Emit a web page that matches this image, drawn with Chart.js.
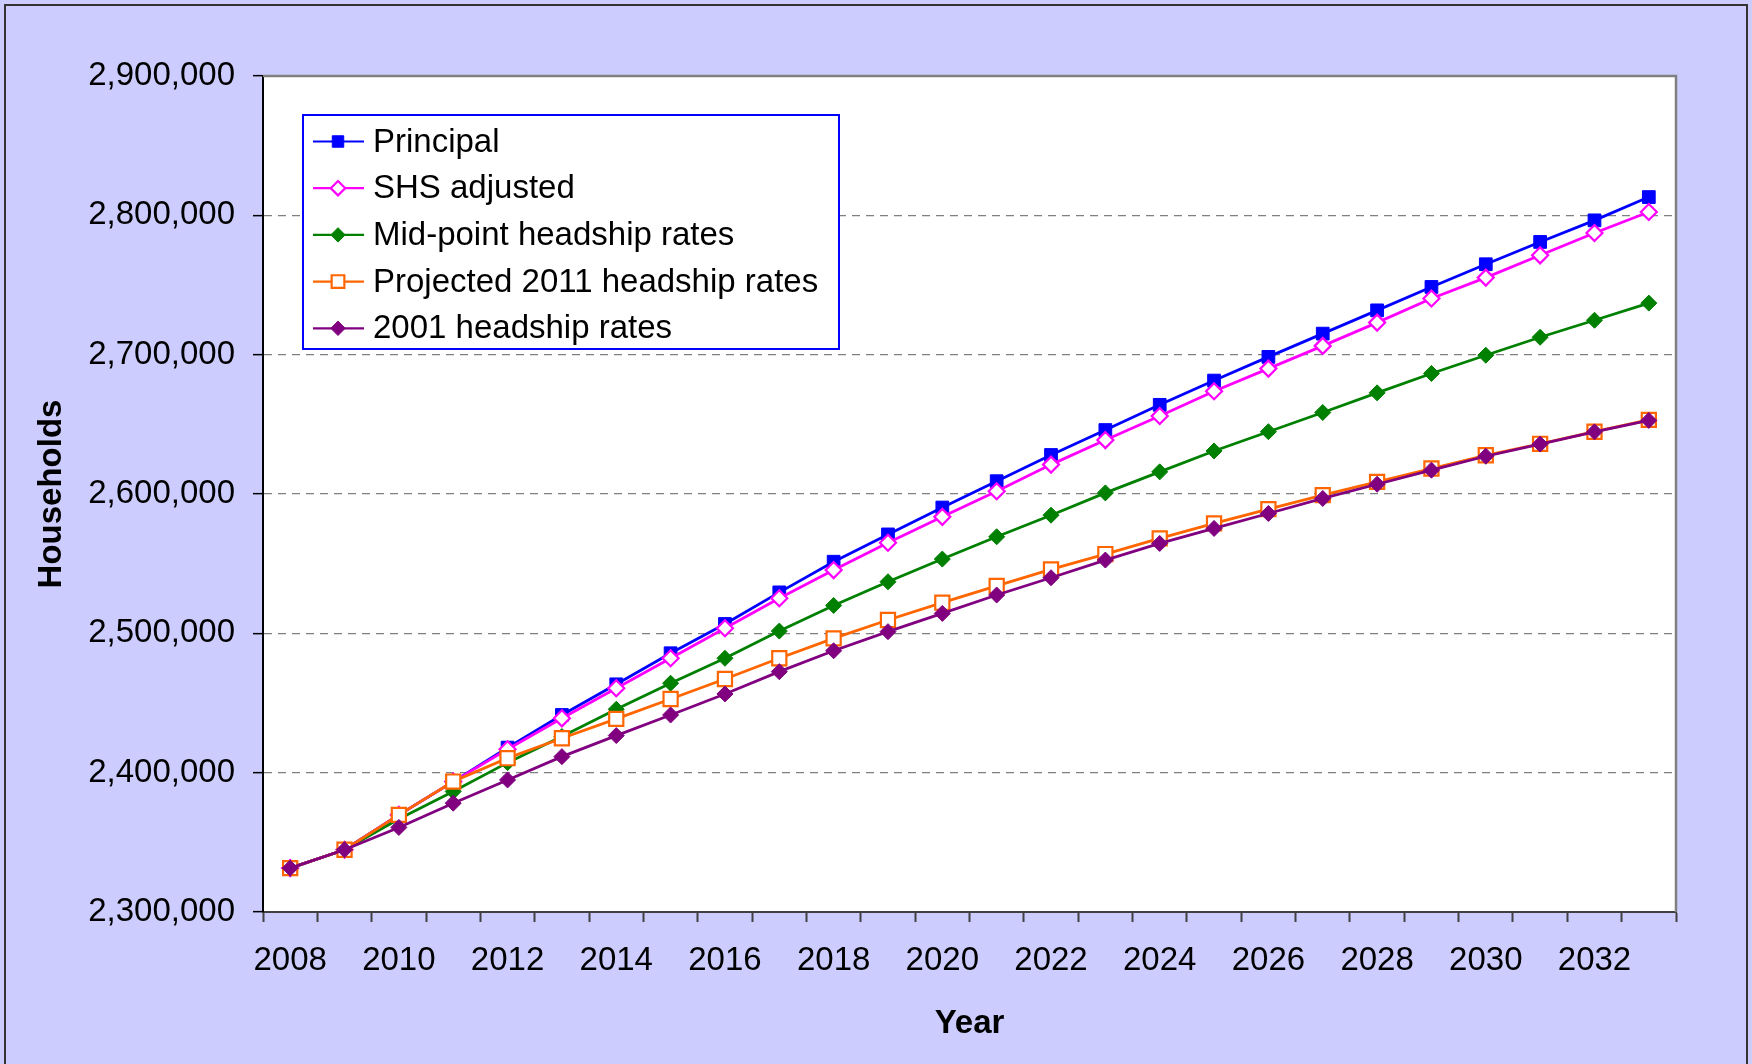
<!DOCTYPE html>
<html>
<head>
<meta charset="utf-8">
<title>Household projections</title>
<script src="https://cdn.jsdelivr.net/npm/chart.js@4.4.1/dist/chart.umd.min.js"></script>
<style>
  html, body { margin: 0; padding: 0; background: #ccccff; }
  #wrap { width: 1752px; height: 1064px; }
</style>
</head>
<body>
<div id="wrap"><canvas id="households" width="1752" height="1064"></canvas></div>
<script>
// data
const years = [
  "2008", "2009", "2010", "2011", "2012", "2013", "2014", "2015", "2016",
  "2017", "2018", "2019", "2020", "2021", "2022", "2023", "2024", "2025",
  "2026", "2027", "2028", "2029", "2030", "2031", "2032", "2033",
];
const principal = [
  2331500, 2344700, 2369700, 2393600, 2418000, 2441400, 2463400, 2485700, 2506700,
  2529400, 2551400, 2571000, 2590300, 2609200, 2628000, 2645900, 2664000, 2681400,
  2698400, 2715100, 2731800, 2748600, 2764900, 2780900, 2796400, 2813100,
];
const shsAdjusted = [
  2331500, 2344700, 2369700, 2393600, 2416800, 2439000, 2460600, 2482100, 2503600,
  2525200, 2545400, 2565000, 2583600, 2602000, 2621100, 2638700, 2656000, 2673700,
  2690000, 2706300, 2723000, 2740300, 2755300, 2771300, 2787300, 2802400,
];
const midPoint = [
  2331500, 2344700, 2366700, 2386500, 2407200, 2425900, 2445500, 2464200, 2482100,
  2501600, 2520000, 2537000, 2553300, 2569300, 2584800, 2600800, 2615900, 2630900,
  2644700, 2658500, 2672600, 2686500, 2699600, 2712500, 2724700, 2737000,
];
const projected2011 = [
  2331500, 2344700, 2369700, 2393600, 2410400, 2424700, 2438600, 2452900, 2467200,
  2482100, 2496400, 2509600, 2522000, 2534000, 2545900, 2556900, 2568100, 2578900,
  2589100, 2599200, 2608700, 2618300, 2627800, 2636000, 2644700, 2653200,
];
const rates2001 = [
  2331500, 2344700, 2360700, 2378100, 2394800, 2411500, 2426600, 2441400, 2456500,
  2472500, 2487500, 2501200, 2514300, 2527500, 2539900, 2552600, 2564500, 2575300,
  2586000, 2596800, 2607000, 2617100, 2627100, 2635800, 2644600, 2652800,
];
const yMin = 2300000;
const yMax = 2900000;
const yStep = 100000;

Chart.defaults.font.family = "'Liberation Sans', Arial, sans-serif";

// lavender page, white plot area, grey top/right edge
const frame = {
  id: "frame",
  beforeDraw(chart) {
    const { ctx, chartArea: a } = chart;
    ctx.save();
    ctx.fillStyle = "#ccccff";
    ctx.fillRect(0, 0, chart.width, chart.height);
    ctx.strokeStyle = "#333333";
    ctx.lineWidth = 2;
    ctx.strokeRect(5, 5, chart.width - 10, chart.height + 20);
    ctx.fillStyle = "#ffffff";
    ctx.fillRect(a.left, a.top, a.right - a.left, a.bottom - a.top);
    ctx.restore();
  },
  beforeDatasetsDraw(chart) {
    const { ctx, chartArea: a } = chart;
    ctx.save();
    ctx.strokeStyle = "#808080";
    ctx.lineWidth = 2.5;
    ctx.beginPath();
    ctx.moveTo(a.left, a.top);
    ctx.lineTo(a.right, a.top);
    ctx.lineTo(a.right, a.bottom);
    ctx.stroke();
    ctx.restore();
  },
};

// boxed legend inside the plot
const boxLegend = {
  id: "boxLegend",
  afterDraw(chart) {
    const ctx = chart.ctx;
    const x = 303, y = 115, w = 536, h = 234, row = 46.7;
    ctx.save();
    ctx.fillStyle = "#ffffff";
    ctx.fillRect(x, y, w, h);
    ctx.strokeStyle = "#0000ff";
    ctx.lineWidth = 2;
    ctx.strokeRect(x, y, w, h);
    ctx.font = "33px 'Liberation Sans', Arial, sans-serif";
    ctx.textBaseline = "middle";
    chart.data.datasets.forEach((ds, i) => {
      const cy = y + 26.5 + i * row;
      ctx.strokeStyle = ds.borderColor;
      ctx.lineWidth = 2.2;
      ctx.beginPath();
      ctx.moveTo(x + 10, cy);
      ctx.lineTo(x + 61, cy);
      ctx.stroke();
      ctx.fillStyle = ds.pointBackgroundColor;
      ctx.strokeStyle = ds.pointBorderColor;
      ctx.lineWidth = ds.pointBorderWidth;
      Chart.helpers.drawPoint(ctx, {
        pointStyle: ds.pointStyle,
        radius: ds.pointRadius * 0.9,
        borderWidth: ds.pointBorderWidth,
        rotation: 0,
      }, x + 35, cy);
      ctx.fillStyle = "#000000";
      ctx.fillText(ds.label, x + 70, cy + 1);
    });
    ctx.restore();
  },
};

function series(label, values, color, style, radius, fill, order) {
  return {
    label: label,
    data: values,
    borderColor: color,
    borderWidth: 2.8,
    pointStyle: style,
    pointRadius: radius,
    pointBackgroundColor: fill,
    pointBorderColor: color,
    pointBorderWidth: fill === "#ffffff" ? 2.2 : 1,
    tension: 0,
    fill: false,
    order: order,
  };
}

new Chart(document.getElementById("households"), {
  type: "line",
  data: {
    labels: years,
    datasets: [
      series("Principal", principal, "#0000ff", "rect", 9, "#0000ff", 5),
      series("SHS adjusted", shsAdjusted, "#ff00ff", "rectRot", 8, "#ffffff", 4),
      series("Mid-point headship rates", midPoint, "#008000", "rectRot", 8, "#008000", 3),
      series("Projected 2011 headship rates", projected2011, "#ff6600", "rect", 10, "#ffffff", 2),
      series("2001 headship rates", rates2001, "#800080", "rectRot", 8, "#800080", 1),
    ],
  },
  options: {
    responsive: false,
    animation: false,
    devicePixelRatio: 1,
    events: [],
    layout: { padding: { left: 20, top: 76, right: 76, bottom: 0 } },
    plugins: {
      legend: { display: false },
      tooltip: { enabled: false },
    },
    scales: {
      x: {
        offset: true,
        grid: {
          offset: true,
          drawOnChartArea: false,
          tickLength: 10,
          tickColor: "#404040",
          tickWidth: 2,
        },
        border: { color: "#404040", width: 2 },
        ticks: {
          autoSkip: false,
          maxRotation: 0,
          padding: 19,
          color: "#000000",
          font: { size: 33 },
          callback: (v, i) => (i % 2 === 0 ? years[i] : ""),
        },
        title: {
          display: true,
          text: "Year",
          color: "#000000",
          font: { size: 33, weight: "bold" },
          padding: { top: 0, bottom: 20 },
        },
        afterFit: (s) => { s.height = 152; },
      },
      y: {
        min: yMin,
        max: yMax,
        ticks: {
          stepSize: yStep,
          padding: 18,
          color: "#000000",
          font: { size: 33 },
          callback: (v) => v.toLocaleString("en-US"),
        },
        grid: {
          color: "#808080",
          lineWidth: 1.3,
          tickColor: "#000000",
          tickLength: 10,
          tickWidth: 1.5,
        },
        border: { color: "#000000", width: 2, dash: [8, 6] },
        title: {
          display: true,
          text: "Households",
          color: "#000000",
          font: { size: 33, weight: "bold" },
          padding: { top: 12, bottom: 0 },
        },
        afterFit: (s) => { s.width = 243; },
      },
    },
  },
  plugins: [frame, boxLegend],
});
</script>
</body>
</html>
